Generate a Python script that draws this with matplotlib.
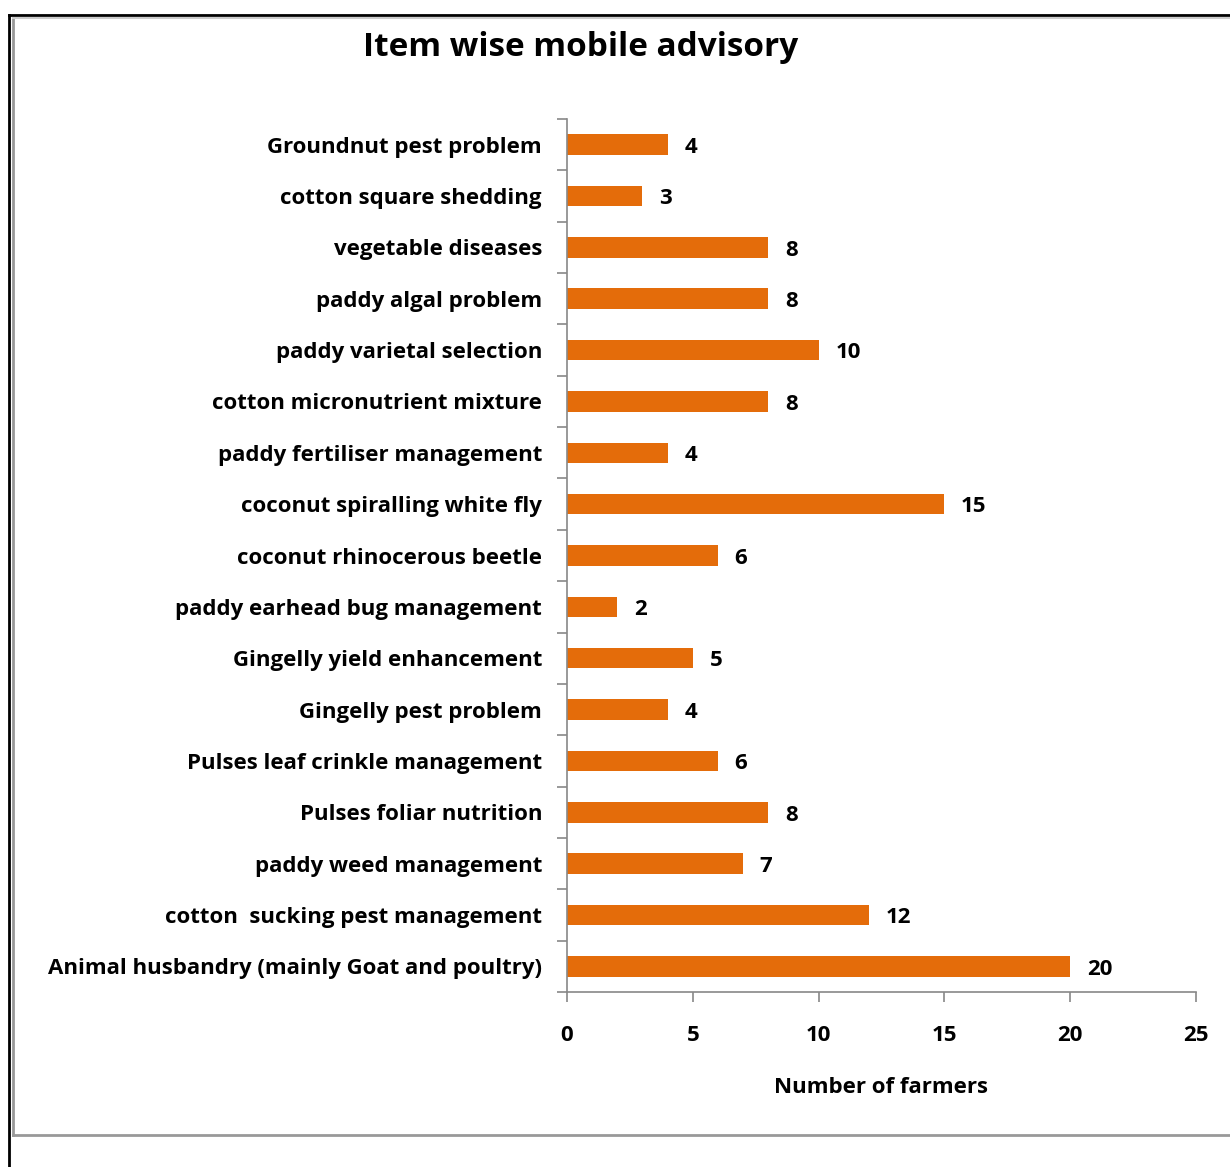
# bieu do thanh ngang: tu van qua dien thoai theo tung muc

import matplotlib.pyplot as plt
from matplotlib.lines import Line2D

# du lieu (tu duoi len tren)
items = ['Animal husbandry (mainly Goat and poultry)',
         'cotton  sucking pest management',
         'paddy weed management',
         'Pulses foliar nutrition',
         'Pulses leaf crinkle management',
         'Gingelly pest problem',
         'Gingelly yield enhancement',
         'paddy earhead bug management',
         'coconut rhinocerous beetle',
         'coconut spiralling white fly',
         'paddy fertiliser management',
         'cotton micronutrient mixture',
         'paddy varietal selection',
         'paddy algal problem',
         'vegetable diseases',
         'cotton square shedding',
         'Groundnut pest problem']
farmers = [20, 12, 7, 8, 6, 4, 5, 2, 6, 15, 4, 8, 10, 8, 8, 3, 4]
x_ticks = [0, 5, 10, 15, 20, 25]

plt.rcParams['font.family'] = ['Open Sans', 'DejaVu Sans']
plt.rcParams['font.weight'] = 'bold'
fs = 16

W, H = 1230, 1167
fig = plt.figure(figsize=(W / 100, H / 100), dpi=100)
ax = fig.add_axes([567 / W, 1 - 992 / H, (1196 - 567) / W, (992 - 119) / H])

pos = list(range(len(items)))
ax.barh(pos, farmers, height=0.4, color='#E46C0A')
for p, v in zip(pos, farmers):
    ax.annotate(str(v), (v, p), xytext=(12, -2), textcoords='offset points',
                ha='left', va='center', fontsize=fs, fontweight='bold')

ax.set_xlim(0, 25)
ax.set_ylim(-0.5, len(items) - 0.5)
ax.set_xticks(x_ticks)
ax.set_xticklabels([str(t) for t in x_ticks], fontsize=fs, fontweight='bold')
ax.set_yticks(pos)
ax.set_yticklabels(items, fontsize=fs, fontweight='bold')
ax.set_yticks([p - 0.5 for p in pos] + [len(items) - 0.5], minor=True)
ax.tick_params(axis='y', which='major', length=0, pad=18)
ax.tick_params(axis='y', which='minor', length=7, color='#888888', width=1.2)
ax.tick_params(axis='x', length=7, color='#888888', width=1.2, pad=17)
for s in ['top', 'right']:
    ax.spines[s].set_visible(False)
for s in ['left', 'bottom']:
    ax.spines[s].set_color('#888888')
    ax.spines[s].set_linewidth(1.2)
ax.set_xlabel('Number of farmers', fontsize=fs, fontweight='bold', labelpad=22)

fig.text(581 / W, 1 - 47 / H, 'Item wise mobile advisory', ha='center', va='center',
         fontsize=24, fontweight='bold')

# khung vien
def fx(x):
    return x / W

def fy(y):
    return 1 - y / H

fig.add_artist(Line2D([fx(9), fx(9)], [fy(15), fy(1167)], color='black', lw=2))
fig.add_artist(Line2D([fx(9), fx(1230)], [fy(15), fy(15)], color='black', lw=2))
fig.add_artist(Line2D([fx(13), fx(13)], [fy(18), fy(1135)], color='#999999', lw=2))
fig.add_artist(Line2D([fx(13), fx(1230)], [fy(18), fy(18)], color='#cccccc', lw=1.5))
fig.add_artist(Line2D([fx(13), fx(1230)], [fy(1135), fy(1135)], color='#999999', lw=2))

fig.savefig('out.png', dpi=100)
